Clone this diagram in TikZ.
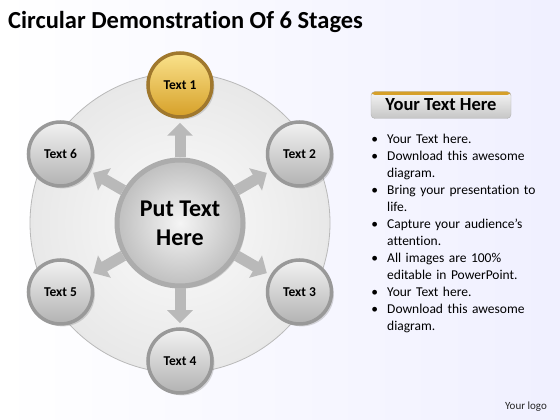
\documentclass[tikz,border=0pt]{standalone}
\usepackage{fontspec}
\setmainfont{Carlito}[Ligatures=NoCommon]
\newfontfamily\listfont{Carlito}[Ligatures=NoCommon, WordSpace=0.75]
\usepackage{enumitem}
\usetikzlibrary{arrows.meta,shadows,calc}
\definecolor{goldhi}{RGB}{250,226,140}
\definecolor{goldlo}{RGB}{214,160,40}
\definecolor{goldring}{RGB}{160,120,45}
\tikzset{
  stage/.style={circle, minimum size=64pt, inner sep=0pt, draw=gray!80, line width=3.5pt,
    top color=gray!10, bottom color=gray!60, drop shadow={opacity=0.3},
    font=\bfseries\fontsize{13.5}{15}\selectfont},
  hub/.style={circle, minimum size=126pt, inner sep=0pt, draw=gray!65, line width=5pt,
    inner color=gray!8, outer color=gray!50, drop shadow={opacity=0.3}, align=center,
    font=\bfseries\fontsize{24}{29}\selectfont},
  flow/.style={line width=11pt, draw=gray!55, -{Triangle[width=25pt,length=13pt]}, shorten >=4pt}
}
\begin{document}
\begin{tikzpicture}[x=1pt, y=1pt]
  % fond
  \shade[left color=white, right color=blue!6] (0,0) rectangle (560,420);
  \useasboundingbox (0,0) rectangle (560,420);
  % titre
  \node[anchor=west, inner sep=0pt, font=\bfseries\fontsize{24.5}{28}\selectfont] (title) at (8,398) {Circular Demonstration Of 6 Stages};
  % disque de fond
  \shade[inner color=gray!3, outer color=gray!18, draw=gray!55, line width=0.8pt] (180,197) circle (150);
  % noeuds
  \node[hub] (C) at (180,197) {Put Text\\Here};
  \node[stage, draw=goldring, top color=goldhi, bottom color=goldlo] (T1) at ($(C)+(90:138)$) {Text 1};
  \node[stage] (T2) at ($(C)+(30:138)$) {Text 2};
  \node[stage] (T3) at ($(C)+(-30:138)$) {Text 3};
  \node[stage] (T4) at ($(C)+(-90:138)$) {Text 4};
  \node[stage] (T5) at ($(C)+(-150:138)$) {Text 5};
  \node[stage] (T6) at ($(C)+(150:138)$) {Text 6};
  % fleches
  \foreach \t in {T1,T2,T3,T4,T5,T6}
    \draw[flow] (C) -- (\t);
  % encadre de droite
  \node[rounded corners=4pt, draw=gray!60, minimum width=140pt, minimum height=27pt,
    top color=gray!8, bottom color=gray!45,
    path picture={\fill[goldlo] (path picture bounding box.north west) rectangle ([yshift=-3.5pt]path picture bounding box.north east);},
    font=\bfseries\fontsize{18.5}{20}\selectfont] (hdr) at (441,315) {Your Text Here};
  \node[anchor=north west, text width=180pt, inner sep=0pt, font=\listfont\fontsize{13.5}{17}\selectfont, align=left] (list) at (367,294) {%
    \begin{itemize}[leftmargin=20pt, labelsep=9pt, itemsep=0pt, parsep=0pt, topsep=0pt]
      \item Your Text here.
      \item Download this awesome\\diagram.
      \item Bring your presentation to\\life.
      \item Capture your audience’s\\attention.
      \item All images are 100\%\\editable in PowerPoint.
      \item Your Text here.
      \item Download this awesome\\diagram.
    \end{itemize}};
  \node[font=\fontsize{11}{13}\selectfont, text=gray!30!black] (logo) at (526,13) {Your logo};
\end{tikzpicture}
\end{document}
